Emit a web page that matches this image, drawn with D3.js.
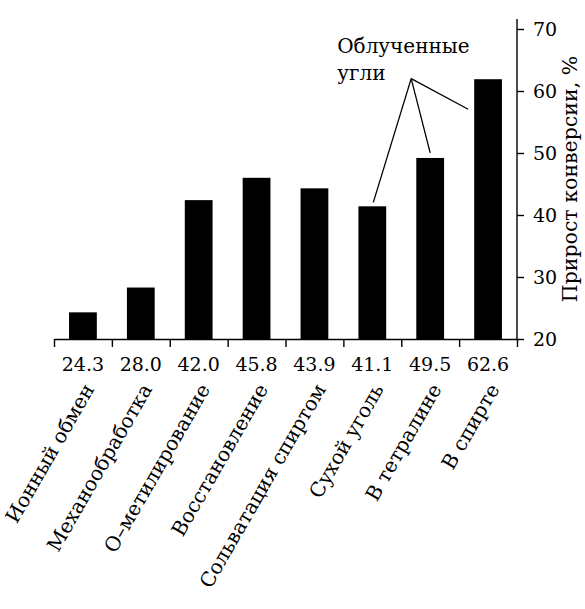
<!DOCTYPE html>
<html><head><meta charset="utf-8">
<script src="https://cdn.jsdelivr.net/npm/d3@7"></script>
<style>
body{margin:0;background:#fff}
text{font-family:"DejaVu Serif","Liberation Serif",serif;fill:#000}
</style></head>
<body><svg id="c" width="585" height="609"></svg>
<script>
const categories = ["Ионный обмен","Механообработка","О–метилирование","Восстановление","Сольватация спиртом","Сухой уголь","В тетралине","В спирте"];
const barValues = [24.3, 28.3, 42.4, 46.0, 44.3, 41.4, 49.2, 61.9];
const valueLabels = ["24.3","28.0","42.0","45.8","43.9","41.1","49.5","62.6"];
const yTicks = [20, 30, 40, 50, 60, 70];
const yTitle = "Прирост конверсии, %";
const noteLines = ["Облученные", "угли"];
const noteTargets = ["Сухой уголь", "В тетралине", "В спирте"];
const noteValue = 62;

const svg = d3.select("#c");
const x = d3.scaleBand().domain(categories).range([54, 517]).paddingInner(0).paddingOuter(0);
const y = d3.scaleLinear().domain([20, 70]).range([339, 29]);
const bw = x.bandwidth() * 0.48;
const cx = c => x(c) + x.bandwidth() / 2;
const FF = '"DejaVu Serif","Liberation Serif",serif';

// bars
svg.append("g").selectAll("rect").data(categories).join("rect")
  .attr("x", c => cx(c) - bw / 2)
  .attr("width", bw)
  .attr("y", (c, i) => y(barValues[i]))
  .attr("height", (c, i) => y(20) - y(barValues[i]))
  .attr("fill", "#000");

// right axis
const ya = svg.append("g").attr("transform", `translate(${x.range()[1]},0)`)
  .call(d3.axisRight(y).tickValues(yTicks).tickSize(7).tickSizeOuter(0).tickPadding(9).tickFormat(d3.format("d")));
ya.select(".domain").remove();
ya.selectAll(".tick line").attr("stroke", "#000").attr("stroke-width", 1.4);
ya.selectAll(".tick text").style("font-family", FF).style("font-size", "19px").attr("fill", "#000");
svg.append("line").attr("x1", x.range()[1]).attr("x2", x.range()[1])
  .attr("y1", y(20)).attr("y2", y(71.6)).attr("stroke", "#000").attr("stroke-width", 1.4);

// bottom axis (ticks at band boundaries)
const bScale = d3.scaleLinear().domain([0, categories.length]).range(x.range());
const xa = svg.append("g").attr("transform", `translate(0,${y(20)})`)
  .call(d3.axisBottom(bScale).ticks(categories.length).tickSize(8).tickSizeOuter(0).tickFormat(""));
xa.select(".domain").attr("stroke", "#000").attr("stroke-width", 1.4);
xa.selectAll(".tick line").attr("stroke", "#000").attr("stroke-width", 1.4);

// value labels
svg.append("g").selectAll("text").data(categories).join("text")
  .attr("x", c => cx(c)).attr("y", y(20) + 32)
  .attr("text-anchor", "middle").style("font-size", "19px")
  .text((c, i) => valueLabels[i]);

// category labels
svg.append("g").selectAll("text").data(categories).join("text")
  .attr("transform", c => `translate(${cx(c) + 12},${y(20) + 50}) rotate(-60)`)
  .attr("text-anchor", "end").style("font-size", "20px")
  .text(c => c);

// y title
svg.append("text")
  .attr("transform", `translate(577,${(y(20) + y(71.6)) / 2}) rotate(-90)`)
  .attr("text-anchor", "middle").style("font-size", "20.5px")
  .text(yTitle);

// annotation
const vx = cx("В тетралине") - 19, vy = y(noteValue);
const targets = [
  [cx(noteTargets[0]) + 1, y(barValues[5]) - 4],
  [cx(noteTargets[1]), y(barValues[6]) - 5],
  [cx(noteTargets[2]) - bw / 2 - 6, y(barValues[7]) + 30]
];
svg.append("g").selectAll("line").data(targets).join("line")
  .attr("x1", vx).attr("y1", vy).attr("x2", d => d[0]).attr("y2", d => d[1])
  .attr("stroke", "#000").attr("stroke-width", 1.3);
svg.append("g").selectAll("text").data(noteLines).join("text")
  .attr("x", vx - 74).attr("y", (d, i) => vy - 26 + i * 27)
  .style("font-size", "20px").text(d => d);
</script></body></html>
